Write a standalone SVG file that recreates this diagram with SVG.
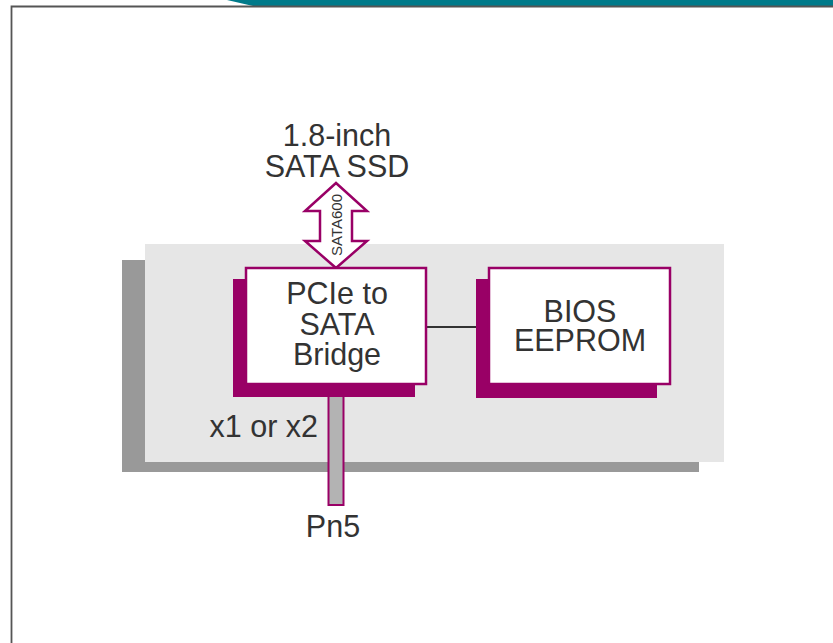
<svg xmlns="http://www.w3.org/2000/svg" width="833" height="643" viewBox="0 0 833 643">
<style>
.t{font-family:"Liberation Sans",Arial,sans-serif;fill:#333333;text-anchor:middle;font-size:30.5px}
.box{fill:#ffffff;stroke:#990066;stroke-width:2.5}
.sh{fill:#990066}
</style>
<rect x="0" y="0" width="833" height="643" fill="#ffffff"/>
<g id="frame">
<polygon points="227,0 833,0 833,6 253,6" fill="#007a8a"/>
<path d="M11.5,643 V6.5 H833" fill="none" stroke="#555555" stroke-width="1.8"/>
</g>
<g id="board">
<rect x="122" y="260" width="577" height="212" fill="#999999"/>
<rect x="145" y="244" width="579" height="218" fill="#e6e6e6"/>
</g>
<g id="connectors">
<line x1="426" y1="327" x2="490" y2="327" stroke="#333333" stroke-width="2"/>
<rect x="328.5" y="384" width="15" height="121" fill="#b3b3b3" stroke="#990066" stroke-width="2"/>
<polygon points="336,183 367,211 352,211 352,241 367,241 336,268 305,241 320,241 320,211 305,211" fill="#ffffff" stroke="#990066" stroke-width="2.5" stroke-linejoin="miter"/>
<text class="t" x="0" y="0" transform="translate(341.5,225) rotate(-90)" style="font-size:15px">SATA600</text>
</g>
<g id="bridge">
<rect class="sh" x="233" y="279" width="182" height="118"/>
<rect class="box" x="246" y="268" width="180" height="116"/>
<text class="t" x="337" y="304">PCIe to</text>
<text class="t" x="337" y="335">SATA</text>
<text class="t" x="337" y="365">Bridge</text>
</g>
<g id="bios">
<rect class="sh" x="476" y="279" width="181" height="119"/>
<rect class="box" x="489" y="268" width="181" height="116"/>
<text class="t" x="580" y="322">BIOS</text>
<text class="t" x="580" y="351">EEPROM</text>
</g>
<g id="ssd">
<text class="t" x="337" y="146">1.8-inch</text>
<text class="t" x="337" y="177">SATA SSD</text>
</g>
<g id="labels">
<text class="t" x="318" y="437" style="text-anchor:end">x1 or x2</text>
<text class="t" x="333" y="537">Pn5</text>
</g>
</svg>
